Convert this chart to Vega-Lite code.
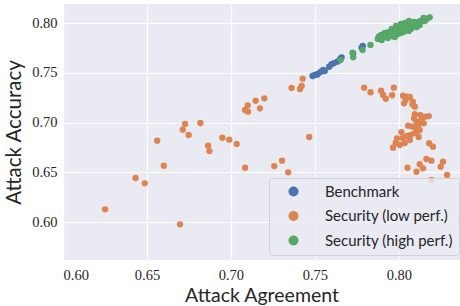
{
  "$schema": "https://vega.github.io/schema/vega-lite/v6.json",
  "width": 397,
  "height": 256,
  "autosize": {"type": "none"},
  "padding": {"left": 63, "top": 4, "right": 0, "bottom": 46},
  "background": "white",
  "config": {
    "view": {"fill": "#EAEAF2", "stroke": null},
    "axis": {
      "domain": false,
      "ticks": false,
      "grid": true,
      "gridColor": "#ffffff",
      "gridWidth": 1.2,
      "labelFont": "Liberation Serif",
      "labelFontSize": 14.5,
      "labelColor": "#262626",
      "titleFont": "Lato",
      "titleFontSize": 19.5,
      "titleFontWeight": "normal",
      "titleColor": "#262626"
    }
  },
  "data": {
    "values": [
      {"agreement": 0.7486, "accuracy": 0.7470, "group": "Benchmark"},
      {"agreement": 0.7500, "accuracy": 0.7480, "group": "Benchmark"},
      {"agreement": 0.7512, "accuracy": 0.7483, "group": "Benchmark"},
      {"agreement": 0.7536, "accuracy": 0.7513, "group": "Benchmark"},
      {"agreement": 0.7549, "accuracy": 0.7530, "group": "Benchmark"},
      {"agreement": 0.7559, "accuracy": 0.7520, "group": "Benchmark"},
      {"agreement": 0.7585, "accuracy": 0.7563, "group": "Benchmark"},
      {"agreement": 0.7599, "accuracy": 0.7588, "group": "Benchmark"},
      {"agreement": 0.7633, "accuracy": 0.7614, "group": "Benchmark"},
      {"agreement": 0.7649, "accuracy": 0.7638, "group": "Benchmark"},
      {"agreement": 0.7659, "accuracy": 0.7658, "group": "Benchmark"},
      {"agreement": 0.7728, "accuracy": 0.7698, "group": "Benchmark"},
      {"agreement": 0.7778, "accuracy": 0.7755, "group": "Benchmark"},
      {"agreement": 0.7785, "accuracy": 0.7772, "group": "Benchmark"},
      {"agreement": 0.7897, "accuracy": 0.7882, "group": "Benchmark"},
      {"agreement": 0.7916, "accuracy": 0.7899, "group": "Benchmark"},
      {"agreement": 0.7958, "accuracy": 0.7933, "group": "Benchmark"},
      {"agreement": 0.8005, "accuracy": 0.7963, "group": "Benchmark"},
      {"agreement": 0.8065, "accuracy": 0.7993, "group": "Benchmark"},
      {"agreement": 0.7519, "accuracy": 0.7493, "group": "Benchmark"},
      {"agreement": 0.7614, "accuracy": 0.7600, "group": "Benchmark"},
      {"agreement": 0.6251, "accuracy": 0.6129, "group": "Security (low perf.)"},
      {"agreement": 0.6697, "accuracy": 0.5978, "group": "Security (low perf.)"},
      {"agreement": 0.6432, "accuracy": 0.6444, "group": "Security (low perf.)"},
      {"agreement": 0.6487, "accuracy": 0.6390, "group": "Security (low perf.)"},
      {"agreement": 0.6600, "accuracy": 0.6567, "group": "Security (low perf.)"},
      {"agreement": 0.6561, "accuracy": 0.6819, "group": "Security (low perf.)"},
      {"agreement": 0.6727, "accuracy": 0.6987, "group": "Security (low perf.)"},
      {"agreement": 0.6713, "accuracy": 0.6930, "group": "Security (low perf.)"},
      {"agreement": 0.6748, "accuracy": 0.6876, "group": "Security (low perf.)"},
      {"agreement": 0.6818, "accuracy": 0.6997, "group": "Security (low perf.)"},
      {"agreement": 0.6864, "accuracy": 0.6769, "group": "Security (low perf.)"},
      {"agreement": 0.6872, "accuracy": 0.6715, "group": "Security (low perf.)"},
      {"agreement": 0.6949, "accuracy": 0.6849, "group": "Security (low perf.)"},
      {"agreement": 0.6990, "accuracy": 0.6829, "group": "Security (low perf.)"},
      {"agreement": 0.7034, "accuracy": 0.6786, "group": "Security (low perf.)"},
      {"agreement": 0.7084, "accuracy": 0.6547, "group": "Security (low perf.)"},
      {"agreement": 0.7258, "accuracy": 0.6564, "group": "Security (low perf.)"},
      {"agreement": 0.7304, "accuracy": 0.6618, "group": "Security (low perf.)"},
      {"agreement": 0.7341, "accuracy": 0.6501, "group": "Security (low perf.)"},
      {"agreement": 0.7084, "accuracy": 0.7128, "group": "Security (low perf.)"},
      {"agreement": 0.7100, "accuracy": 0.7175, "group": "Security (low perf.)"},
      {"agreement": 0.7102, "accuracy": 0.7111, "group": "Security (low perf.)"},
      {"agreement": 0.7147, "accuracy": 0.7221, "group": "Security (low perf.)"},
      {"agreement": 0.7199, "accuracy": 0.7245, "group": "Security (low perf.)"},
      {"agreement": 0.7173, "accuracy": 0.7145, "group": "Security (low perf.)"},
      {"agreement": 0.7361, "accuracy": 0.7349, "group": "Security (low perf.)"},
      {"agreement": 0.7411, "accuracy": 0.7339, "group": "Security (low perf.)"},
      {"agreement": 0.7421, "accuracy": 0.7369, "group": "Security (low perf.)"},
      {"agreement": 0.7427, "accuracy": 0.7443, "group": "Security (low perf.)"},
      {"agreement": 0.7466, "accuracy": 0.6856, "group": "Security (low perf.)"},
      {"agreement": 0.7793, "accuracy": 0.7352, "group": "Security (low perf.)"},
      {"agreement": 0.7831, "accuracy": 0.7306, "group": "Security (low perf.)"},
      {"agreement": 0.7894, "accuracy": 0.7322, "group": "Security (low perf.)"},
      {"agreement": 0.7906, "accuracy": 0.7279, "group": "Security (low perf.)"},
      {"agreement": 0.7922, "accuracy": 0.7241, "group": "Security (low perf.)"},
      {"agreement": 0.7960, "accuracy": 0.7276, "group": "Security (low perf.)"},
      {"agreement": 0.7970, "accuracy": 0.7352, "group": "Security (low perf.)"},
      {"agreement": 0.8025, "accuracy": 0.7272, "group": "Security (low perf.)"},
      {"agreement": 0.8049, "accuracy": 0.7262, "group": "Security (low perf.)"},
      {"agreement": 0.8041, "accuracy": 0.7228, "group": "Security (low perf.)"},
      {"agreement": 0.8031, "accuracy": 0.7195, "group": "Security (low perf.)"},
      {"agreement": 0.8081, "accuracy": 0.7185, "group": "Security (low perf.)"},
      {"agreement": 0.8095, "accuracy": 0.7161, "group": "Security (low perf.)"},
      {"agreement": 0.8065, "accuracy": 0.7259, "group": "Security (low perf.)"},
      {"agreement": 0.8083, "accuracy": 0.7211, "group": "Security (low perf.)"},
      {"agreement": 0.8095, "accuracy": 0.7085, "group": "Security (low perf.)"},
      {"agreement": 0.8128, "accuracy": 0.7077, "group": "Security (low perf.)"},
      {"agreement": 0.8178, "accuracy": 0.7067, "group": "Security (low perf.)"},
      {"agreement": 0.8154, "accuracy": 0.7060, "group": "Security (low perf.)"},
      {"agreement": 0.8090, "accuracy": 0.7044, "group": "Security (low perf.)"},
      {"agreement": 0.8105, "accuracy": 0.7010, "group": "Security (low perf.)"},
      {"agreement": 0.8134, "accuracy": 0.7027, "group": "Security (low perf.)"},
      {"agreement": 0.8148, "accuracy": 0.6994, "group": "Security (low perf.)"},
      {"agreement": 0.8114, "accuracy": 0.6977, "group": "Security (low perf.)"},
      {"agreement": 0.8055, "accuracy": 0.6970, "group": "Security (low perf.)"},
      {"agreement": 0.8081, "accuracy": 0.6960, "group": "Security (low perf.)"},
      {"agreement": 0.8105, "accuracy": 0.6944, "group": "Security (low perf.)"},
      {"agreement": 0.8124, "accuracy": 0.6927, "group": "Security (low perf.)"},
      {"agreement": 0.8015, "accuracy": 0.6906, "group": "Security (low perf.)"},
      {"agreement": 0.7989, "accuracy": 0.6843, "group": "Security (low perf.)"},
      {"agreement": 0.7965, "accuracy": 0.6749, "group": "Security (low perf.)"},
      {"agreement": 0.8023, "accuracy": 0.6846, "group": "Security (low perf.)"},
      {"agreement": 0.8047, "accuracy": 0.6866, "group": "Security (low perf.)"},
      {"agreement": 0.8071, "accuracy": 0.6876, "group": "Security (low perf.)"},
      {"agreement": 0.8095, "accuracy": 0.6896, "group": "Security (low perf.)"},
      {"agreement": 0.8118, "accuracy": 0.6856, "group": "Security (low perf.)"},
      {"agreement": 0.8005, "accuracy": 0.6776, "group": "Security (low perf.)"},
      {"agreement": 0.8035, "accuracy": 0.6796, "group": "Security (low perf.)"},
      {"agreement": 0.7981, "accuracy": 0.6796, "group": "Security (low perf.)"},
      {"agreement": 0.8065, "accuracy": 0.6826, "group": "Security (low perf.)"},
      {"agreement": 0.8112, "accuracy": 0.6917, "group": "Security (low perf.)"},
      {"agreement": 0.8180, "accuracy": 0.6793, "group": "Security (low perf.)"},
      {"agreement": 0.8203, "accuracy": 0.6759, "group": "Security (low perf.)"},
      {"agreement": 0.8164, "accuracy": 0.6635, "group": "Security (low perf.)"},
      {"agreement": 0.8194, "accuracy": 0.6618, "group": "Security (low perf.)"},
      {"agreement": 0.8124, "accuracy": 0.6582, "group": "Security (low perf.)"},
      {"agreement": 0.8144, "accuracy": 0.6541, "group": "Security (low perf.)"},
      {"agreement": 0.8051, "accuracy": 0.6547, "group": "Security (low perf.)"},
      {"agreement": 0.8105, "accuracy": 0.6507, "group": "Security (low perf.)"},
      {"agreement": 0.8263, "accuracy": 0.6608, "group": "Security (low perf.)"},
      {"agreement": 0.8249, "accuracy": 0.6557, "group": "Security (low perf.)"},
      {"agreement": 0.8287, "accuracy": 0.6474, "group": "Security (low perf.)"},
      {"agreement": 0.8194, "accuracy": 0.6424, "group": "Security (low perf.)"},
      {"agreement": 0.7653, "accuracy": 0.7630, "group": "Security (high perf.)"},
      {"agreement": 0.7724, "accuracy": 0.7704, "group": "Security (high perf.)"},
      {"agreement": 0.7728, "accuracy": 0.7658, "group": "Security (high perf.)"},
      {"agreement": 0.7784, "accuracy": 0.7731, "group": "Security (high perf.)"},
      {"agreement": 0.7831, "accuracy": 0.7782, "group": "Security (high perf.)"},
      {"agreement": 0.7875, "accuracy": 0.7842, "group": "Security (high perf.)"},
      {"agreement": 0.7886, "accuracy": 0.7872, "group": "Security (high perf.)"},
      {"agreement": 0.7898, "accuracy": 0.7832, "group": "Security (high perf.)"},
      {"agreement": 0.7910, "accuracy": 0.7862, "group": "Security (high perf.)"},
      {"agreement": 0.7922, "accuracy": 0.7882, "group": "Security (high perf.)"},
      {"agreement": 0.7934, "accuracy": 0.7852, "group": "Security (high perf.)"},
      {"agreement": 0.7946, "accuracy": 0.7892, "group": "Security (high perf.)"},
      {"agreement": 0.7958, "accuracy": 0.7872, "group": "Security (high perf.)"},
      {"agreement": 0.7970, "accuracy": 0.7902, "group": "Security (high perf.)"},
      {"agreement": 0.7976, "accuracy": 0.7862, "group": "Security (high perf.)"},
      {"agreement": 0.7988, "accuracy": 0.7923, "group": "Security (high perf.)"},
      {"agreement": 0.7994, "accuracy": 0.7892, "group": "Security (high perf.)"},
      {"agreement": 0.8005, "accuracy": 0.7933, "group": "Security (high perf.)"},
      {"agreement": 0.8011, "accuracy": 0.7902, "group": "Security (high perf.)"},
      {"agreement": 0.8023, "accuracy": 0.7943, "group": "Security (high perf.)"},
      {"agreement": 0.8029, "accuracy": 0.7912, "group": "Security (high perf.)"},
      {"agreement": 0.8035, "accuracy": 0.7963, "group": "Security (high perf.)"},
      {"agreement": 0.8041, "accuracy": 0.7933, "group": "Security (high perf.)"},
      {"agreement": 0.8053, "accuracy": 0.7953, "group": "Security (high perf.)"},
      {"agreement": 0.8059, "accuracy": 0.7923, "group": "Security (high perf.)"},
      {"agreement": 0.8065, "accuracy": 0.7973, "group": "Security (high perf.)"},
      {"agreement": 0.8071, "accuracy": 0.7943, "group": "Security (high perf.)"},
      {"agreement": 0.8077, "accuracy": 0.7993, "group": "Security (high perf.)"},
      {"agreement": 0.8083, "accuracy": 0.7963, "group": "Security (high perf.)"},
      {"agreement": 0.8095, "accuracy": 0.7983, "group": "Security (high perf.)"},
      {"agreement": 0.8100, "accuracy": 0.8003, "group": "Security (high perf.)"},
      {"agreement": 0.8106, "accuracy": 0.7963, "group": "Security (high perf.)"},
      {"agreement": 0.8118, "accuracy": 0.8013, "group": "Security (high perf.)"},
      {"agreement": 0.8124, "accuracy": 0.7983, "group": "Security (high perf.)"},
      {"agreement": 0.8130, "accuracy": 0.8023, "group": "Security (high perf.)"},
      {"agreement": 0.8142, "accuracy": 0.8033, "group": "Security (high perf.)"},
      {"agreement": 0.8112, "accuracy": 0.7993, "group": "Security (high perf.)"},
      {"agreement": 0.8089, "accuracy": 0.8013, "group": "Security (high perf.)"},
      {"agreement": 0.8047, "accuracy": 0.7983, "group": "Security (high perf.)"},
      {"agreement": 0.8017, "accuracy": 0.7963, "group": "Security (high perf.)"},
      {"agreement": 0.8000, "accuracy": 0.7953, "group": "Security (high perf.)"},
      {"agreement": 0.7982, "accuracy": 0.7943, "group": "Security (high perf.)"},
      {"agreement": 0.7964, "accuracy": 0.7923, "group": "Security (high perf.)"},
      {"agreement": 0.7940, "accuracy": 0.7912, "group": "Security (high perf.)"},
      {"agreement": 0.7916, "accuracy": 0.7902, "group": "Security (high perf.)"},
      {"agreement": 0.7904, "accuracy": 0.7882, "group": "Security (high perf.)"},
      {"agreement": 0.7880, "accuracy": 0.7862, "group": "Security (high perf.)"},
      {"agreement": 0.8148, "accuracy": 0.8053, "group": "Security (high perf.)"},
      {"agreement": 0.8184, "accuracy": 0.8060, "group": "Security (high perf.)"},
      {"agreement": 0.8166, "accuracy": 0.8043, "group": "Security (high perf.)"},
      {"agreement": 0.8154, "accuracy": 0.8023, "group": "Security (high perf.)"},
      {"agreement": 0.7983, "accuracy": 0.7973, "group": "Security (high perf.)"},
      {"agreement": 0.8012, "accuracy": 0.7993, "group": "Security (high perf.)"},
      {"agreement": 0.8036, "accuracy": 0.8003, "group": "Security (high perf.)"},
      {"agreement": 0.8060, "accuracy": 0.8023, "group": "Security (high perf.)"},
      {"agreement": 0.7958, "accuracy": 0.7943, "group": "Security (high perf.)"}
    ]
  },
  "mark": {"type": "circle", "size": 40, "opacity": 1},
  "encoding": {
    "x": {
      "field": "agreement",
      "type": "quantitative",
      "scale": {"domain": [0.6, 0.8364], "nice": false, "zero": false},
      "axis": {
        "title": "Attack Agreement",
        "values": [0.6, 0.65, 0.7, 0.75, 0.8],
        "format": ".2f",
        "labelPadding": 8,
        "titlePadding": 5
      }
    },
    "y": {
      "field": "accuracy",
      "type": "quantitative",
      "scale": {"domain": [0.5619, 0.8194], "nice": false, "zero": false},
      "axis": {
        "title": "Attack Accuracy",
        "titleFontSize": 20.5,
        "values": [0.6, 0.65, 0.7, 0.75, 0.8],
        "format": ".2f",
        "labelPadding": 6,
        "titlePadding": 7
      }
    },
    "color": {
      "field": "group",
      "type": "nominal",
      "scale": {
        "domain": ["Benchmark", "Security (low perf.)", "Security (high perf.)"],
        "range": ["#4C72B0", "#DD8452", "#55A868"]
      },
      "legend": {
        "title": null,
        "orient": "none",
        "legendX": 206,
        "legendY": 174,
        "fillColor": "rgba(234,234,242,0.8)",
        "strokeColor": "#d0d0d8",
        "cornerRadius": 3,
        "padding": 6,
        "symbolType": "circle",
        "symbolSize": 100,
        "symbolOpacity": 1,
        "symbolStrokeWidth": 0,
        "symbolOffset": 11,
        "labelOffset": 24,
        "labelFont": "Lato",
        "labelFontSize": 15,
        "labelColor": "#262626",
        "rowPadding": 8.5
      }
    }
  }
}
